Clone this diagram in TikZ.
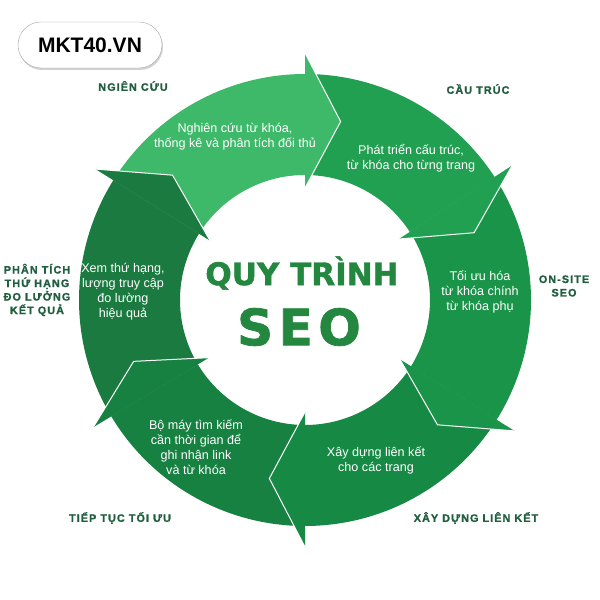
\documentclass[tikz,border=0pt]{standalone}
\usepackage{fontspec}
\setmainfont{Liberation Sans}
\newfontfamily\titlefont{DejaVu Sans}
\usetikzlibrary{calc,shadows}
\definecolor{cNC}{HTML}{3EB96A}
\definecolor{cCT}{HTML}{22A052}
\definecolor{cOS}{HTML}{1A9449}
\definecolor{cXD}{HTML}{168A44}
\definecolor{cTT}{HTML}{178141}
\definecolor{cPT}{HTML}{1A7A40}
\definecolor{labc}{HTML}{1F5E3E}
\definecolor{titlec}{HTML}{24873F}
\newcommand\segbody[3]{%
  \fill[#1] ($(C)+(#2:\Rout)$) arc[start angle=#2, end angle=#3, radius=\Rout]
    -- ($(C)+(#3:\Rin)$) arc[start angle=#3, end angle=#2, radius=\Rin] -- cycle;}
\newcommand\seghead[2]{%
  \filldraw[fill=#1, draw=white, line width=1pt, line join=miter]
    ($(C)+(#2:\Rwo)$) -- ($(C)+({#2-\dtip}:\Rtip)$) -- ($(C)+(#2:\Rwi)$);}
\tikzset{
  intext/.style={text=white, font=\fontsize{12.6}{15}\selectfont, align=center, inner sep=0pt},
  lab/.style={text=labc, font=\fontsize{10.8}{13.5}\selectfont\bfseries\addfontfeatures{LetterSpace=10,FakeBold=1.2}, align=center, inner sep=0pt},
  badge/.style={draw=gray!70, fill=white, rounded corners=23pt, minimum width=144pt, minimum height=46pt,
    drop shadow={shadow xshift=1pt, shadow yshift=-2pt, opacity=0.35}, font=\fontsize{21}{24}\selectfont\bfseries, text=black},
  ttl/.style={text=titlec, inner sep=0pt}
}
\begin{document}
\begin{tikzpicture}[x=1pt,y=1pt]
\useasboundingbox (0,0) rectangle (600,600);
\fill[white] (0,0) rectangle (600,600);
\coordinate (C) at (305,300);
\def\Rin{125}\def\Rout{226}\def\Rwi{112}\def\Rwo{247}\def\Rtip{182}\def\dtip{11.3}
% bodies
\segbody{cNC}{148}{90}
\segbody{cCT}{90}{33}
\segbody{cOS}{33}{-32}
\segbody{cXD}{-32}{-90}
\segbody{cTT}{-90}{-149}
\segbody{cPT}{211}{148}
% heads
\seghead{cNC}{90}
\seghead{cCT}{33}
\seghead{cOS}{-32}
\seghead{cXD}{-90}
\seghead{cTT}{-149}
\seghead{cPT}{148}
% inner texts
\node[intext] (tNC) at (235,463.5) {Nghiên cứu từ khóa,\\thống kê và phân tích đối thủ};
\node[intext] (tCT) at (411,442) {Phát triển cấu trúc,\\từ khóa cho từng trang};
\node[intext] (tOS) at (480,308) {Tối ưu hóa\\từ khóa chính\\từ khóa phụ};
\node[intext] (tXD) at (376,139.5) {Xây dựng liên kết\\cho các trang};
\node[intext] (tTT) at (196,153) {Bộ máy tìm kiếm\\cần thời gian để\\ghi nhận link\\và từ khóa};
\node[intext] (tPT) at (123,308) {Xem thứ hạng,\\lượng truy cập\\đo lường\\hiệu quả};
% title
\node[ttl, font=\titlefont\bfseries\fontsize{31}{31}\selectfont\addfontfeatures{FakeBold=1.5}] (q) at (302,327) {QUY TRÌNH};
\node[ttl, font=\titlefont\bfseries\fontsize{50}{50}\selectfont\addfontfeatures{LetterSpace=11,FakeBold=1.5}] (seo) at (299,273) {SEO};
% outer labels
\node[lab] (lNC) at (133,514) {NGIÊN CỨU};
\node[lab] (lCT) at (478,511) {CẦU TRÚC};
\node[lab] (lOS) at (564,314) {ON-SITE\\SEO};
\node[lab] (lXD) at (476,82) {XÂY DỰNG LIÊN KẾT};
\node[lab] (lTT) at (120,82) {TIẾP TỤC TỐI ƯU};
\node[lab] (lPT) at (37,310) {PHÂN TÍCH\\THỨ HẠNG\\ĐO LƯỞNG\\KẾT QUẢ};
% badge
\node[badge] (badge) at (90,555) {MKT40.VN};
\end{tikzpicture}
\end{document}
